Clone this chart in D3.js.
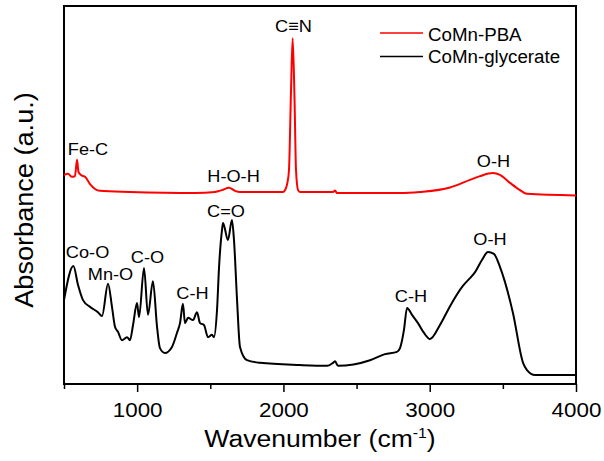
<!DOCTYPE html>
<html>
<head>
<meta charset="utf-8">
<script src="https://cdn.jsdelivr.net/npm/d3@7.9.0/dist/d3.min.js"></script>
<style>
  html, body { margin: 0; padding: 0; background: #fff; }
  svg { display: block; font-family: "Liberation Sans", Arial, sans-serif; }
</style>
</head>
<body>
<svg id="chart" width="604" height="461"></svg>
<script>
// ── Data ──────────────────────────────────────────────────────────────────
// CoMn-PBA spectrum (red, offset upward)
const pbaWave = [500, 527, 555, 575, 589, 599, 616, 644, 678, 712, 746, 951, 1396, 1532,
  1580, 1628, 1669, 1703, 1997, 2018, 2028, 2038, 2052, 2063, 2076, 2086, 2100, 2113,
  2339, 2353, 2366, 2797, 2934, 3139, 3275, 3344, 3433, 3480, 3549, 3617, 3665, 4000];
const pbaAbs = [55.3, 55.6, 54.8, 55.0, 59.3, 56.1, 55.3, 54.8, 52.9, 51.6, 51.1, 50.8, 50.5, 50.8,
  51.3, 51.9, 51.1, 50.8, 50.8, 51.9, 53.4, 56.6, 77.8, 91.5, 75.1, 56.6, 51.3, 50.8,
  50.8, 51.2, 50.5, 50.5, 50.8, 52.0, 54.0, 55.0, 55.8, 55.3, 53.2, 51.3, 50.3, 49.9];

// CoMn-glycerate spectrum (black)
const glyWave = [500, 564, 596, 630, 678, 732, 760, 801, 828, 849, 869, 896, 931, 951, 972,
  999, 1013, 1047, 1074, 1108, 1136, 1156, 1190, 1238, 1272, 1293, 1313, 1327, 1348, 1382,
  1409, 1430, 1457, 1484, 1512, 1525, 1546, 1560, 1580, 1587, 1621, 1648, 1662, 1683, 1703,
  1751, 1840, 2113, 2298, 2339, 2353, 2373, 2592, 2694, 2776, 2797, 2824, 2845, 2879, 2920,
  2961, 3002, 3070, 3139, 3228, 3275, 3310, 3357, 3398, 3439, 3480, 3569, 3638, 3665, 3720, 4000];
const glyAbs = [22.2, 31.2, 26.2, 22.2, 20.4, 19.0, 18.0, 26.5, 20.4, 15.1, 13.8, 11.6, 12.4, 11.6, 15.6,
  21.4, 17.7, 30.7, 18.3, 27.2, 15.1, 9.5, 8.2, 9.8, 13.5, 16.1, 21.2, 16.1, 17.5, 16.9,
  19.0, 16.1, 15.6, 12.4, 13.0, 12.4, 19.6, 31.0, 40.7, 42.6, 38.1, 43.4, 38.1, 22.2, 9.8,
  6.3, 5.6, 5.0, 4.8, 5.6, 6.0, 4.8, 6.3, 7.9, 8.5, 9.5, 14.3, 20.1, 18.3, 16.1,
  13.5, 11.9, 15.6, 20.6, 26.0, 28.0, 29.6, 32.8, 34.9, 34.4, 31.0, 18.8, 5.6, 3.7, 2.4, 2.4];

// Band assignments
const annoText = ['Fe-C', 'C≡N', 'H-O-H', 'O-H', 'C=O', 'Co-O', 'Mn-O', 'C-O', 'C-H', 'C-H', 'O-H'];
const annoWave = [664, 2069, 1659, 3436, 1607, 661, 818, 1071, 1378, 2872, 3412];
const annoAbs  = [60.6, 93.1, 53.4, 57.4, 44.2, 33.3, 27.5, 32.0, 22.5, 21.7, 36.8];

const seriesNames = ['CoMn-PBA', 'CoMn-glycerate'];
const seriesColors = ['#ff0000', '#000000'];

const majorTicks = [1000, 2000, 3000, 4000];
const minorTicks = [500, 1500, 2500, 3500];

// ── Layout ────────────────────────────────────────────────────────────────
const plotLeft = 64, plotRight = 576, plotTop = 6, plotBottom = 384;
const svg = d3.select('#chart');

const x = d3.scaleLinear().domain([500, 4000]).range([plotLeft, plotRight]);
const y = d3.scaleLinear().domain([0, 100]).range([plotBottom, plotTop]);

// ── Axis ──────────────────────────────────────────────────────────────────
const xAxis = svg.append('g')
  .attr('transform', `translate(0,${plotBottom})`)
  .call(d3.axisBottom(x).tickValues(majorTicks).tickSize(8).tickFormat(d3.format('d')));
xAxis.select('.domain').remove();
xAxis.selectAll('line').attr('stroke', '#000').attr('stroke-width', 1.5);
xAxis.selectAll('text')
  .attr('y', 33).attr('dy', null)
  .attr('fill', '#000')
  .style('font-size', '20px')
  .attr('transform', 'scale(1.12,1)');
xAxis.attr('font-family', null).attr('font-size', null);

svg.append('g')
  .attr('transform', `translate(0,${plotBottom})`)
  .call(d3.axisBottom(x).tickValues(minorTicks).tickSize(5).tickFormat(''))
  .call((g) => g.select('.domain').remove())
  .selectAll('line').attr('stroke', '#000').attr('stroke-width', 1.5);

// Frame
svg.append('rect')
  .attr('x', plotLeft).attr('y', plotTop)
  .attr('width', plotRight - plotLeft).attr('height', plotBottom - plotTop)
  .attr('fill', 'none').attr('stroke', '#000').attr('stroke-width', 2);

// ── Spectra ───────────────────────────────────────────────────────────────
const line = d3.line()
  .x((d) => x(d[0]))
  .y((d) => y(d[1]))
  .curve(d3.curveMonotoneX);

const spectra = [d3.zip(pbaWave, pbaAbs), d3.zip(glyWave, glyAbs)];
spectra.forEach((pts, i) => {
  svg.append('path')
    .attr('d', line(pts))
    .attr('fill', 'none')
    .attr('stroke', seriesColors[i])
    .attr('stroke-width', 2)
    .attr('stroke-linejoin', 'round');
});

// ── Peak labels ───────────────────────────────────────────────────────────
annoText.forEach((t, i) => {
  svg.append('text')
    .attr('transform', `translate(${x(annoWave[i])},${y(annoAbs[i])}) scale(1.07,1)`)
    .attr('text-anchor', 'middle')
    .style('font-size', '17px')
    .text(t);
});

// ── Legend ────────────────────────────────────────────────────────────────
const legendY = [33, 56.5];
const legendBase = [40.5, 63];
seriesNames.forEach((name, i) => {
  svg.append('line')
    .attr('x1', 380).attr('x2', 423)
    .attr('y1', legendY[i]).attr('y2', legendY[i])
    .attr('stroke', seriesColors[i]).attr('stroke-width', 1.5);
  svg.append('text')
    .attr('transform', `translate(428,${legendBase[i]}) scale(1.04,1)`)
    .style('font-size', '18px')
    .text(name);
});

// ── Axis titles ───────────────────────────────────────────────────────────
const xTitle = svg.append('text')
  .attr('transform', `translate(${(plotLeft + plotRight) / 2},447) scale(1.13,1)`)
  .attr('text-anchor', 'middle')
  .style('font-size', '23.5px');
xTitle.append('tspan').text('Wavenumber (cm');
xTitle.append('tspan').attr('dy', -9).style('font-size', '14px').text('-1');
xTitle.append('tspan').attr('dy', 9).text(')');

svg.append('text')
  .attr('transform', 'translate(33,200) rotate(-90) scale(1.085,1)')
  .attr('text-anchor', 'middle')
  .style('font-size', '25px')
  .text('Absorbance (a.u.)');
</script>
</body>
</html>
